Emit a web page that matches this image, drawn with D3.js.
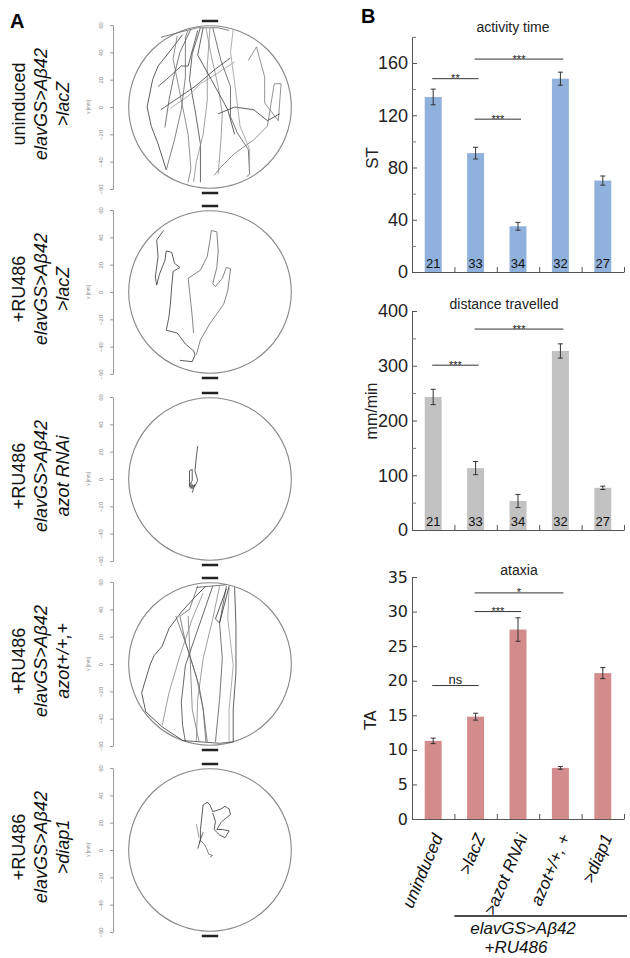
<!DOCTYPE html>
<html><head><meta charset="utf-8">
<script src="https://cdn.jsdelivr.net/npm/d3@7"></script>
<style>body{margin:0;background:#fff}svg{display:block}</style>
</head><body>
<svg id="fig" width="630" height="958"></svg>
<script>
// ---------------- DATA ----------------
const categories = ["uninduced", ">lacZ", ">azot RNAi", "azot+/+, +", ">diap1"];
const sampleSizes = [21, 33, 34, 32, 27];
const activityMean = [134, 91, 35, 148, 70];
const activityErr = [6, 4.5, 3, 5, 3.5];
const distanceMean = [243, 113, 53, 327, 77];
const distanceErr = [14, 12, 12, 13, 3];
const ataxiaMean = [11.3, 14.8, 27.4, 7.4, 21.1];
const ataxiaErr = [0.4, 0.5, 1.7, 0.2, 0.8];
const activitySig = [[0, 1, 148, "**"], [1, 2, 117, "***"], [1, 3, 163, "***"]];
const distanceSig = [[0, 1, 301, "***"], [1, 3, 367, "***"]];
const ataxiaSig = [[0, 1, 19.3, "ns"], [1, 2, 30.0, "***"], [1, 3, 32.7, "*"]];
const activityTicks = [0, 40, 80, 120, 160];
const activityMinor = [20, 60, 100, 140, 180];
const distanceTicks = [0, 100, 200, 300, 400];
const distanceMinor = [50, 150, 250, 350];
const ataxiaTicks = [0, 5, 10, 15, 20, 25, 30, 35];

const panelALine1 = ["uninduced", "+RU486", "+RU486", "+RU486", "+RU486"];
const panelALine2 = ["elavGS>Aβ42", "elavGS>Aβ42", "elavGS>Aβ42", "elavGS>Aβ42", "elavGS>Aβ42"];
const panelALine3 = [">lacZ", ">lacZ", "azot RNAi", "azot+/+,+", ">diap1"];
const arenaTicks = [-60, -40, -20, 0, 20, 40, 60];

// walking tracks (mm)
const tracksUninduced = [
 [[-20,53],[-30,40],[-38,30],[-42,20],[-46,0],[-43,-14],[-38,-27],[-32,-46]],
 [[-32,-46],[-26,-24],[-21,-2],[-18,22],[-18,51],[-16,56]],
 [[-7,58],[-13,39],[-15,20],[-11,-2],[-7,-27],[-7,-55]],
 [[-3,58],[1,37],[6,15],[9,-5],[8,-24],[6,-49]],
 [[2,58],[8,34],[15,15],[15,-7],[20,-19],[28,-31],[29,-49],[27,-51]],
 [[-29,-1],[-16,8],[-7,17],[6,25],[18,33]],
 [[-36,-2],[-11,15],[3,27],[15,36]],
 [[28,34],[34,44],[40,22],[40,3],[50,-10],[52,17],[47,17],[42,-14],[32,-24],[18,-34],[8,-44],[3,-50]],
 [[6,-5],[18,0],[32,-2],[42,-10],[51,-5]],
 [[-36,51],[-21,55],[-9,58],[6,58],[14,56]],
 [[-9,56],[-16,30],[-21,30],[-32,20],[-38,15]],
 [[0,58],[-2,30],[-2,5],[-5,-20],[-10,-40],[-12,-55]],
 [[-14,57],[-22,40],[-27,20],[-30,5],[-33,-15]],
 [[17,57],[15,40],[18,18],[22,-14],[29,-31],[29,-45]],
 [[-5,58],[-9,38],[1,20],[13,-2],[18,-20]],
 [[-24,52],[-27,35],[-22,10],[-16,-20],[-14,-45],[-16,-55]]
];
const tracksLacZ = [
 [[-34,45],[-39,38],[-38,26],[-40,11],[-39,5],[-37,13],[-33,23],[-32,30],[-28,29],[-26,21],[-22,18],[-27,15],[-28,4],[-29,-9],[-30,-18],[-32,-28],[-24,-30],[-18,-38],[-12,-43],[-11,-46],[-13,-51],[-22,-50]],
 [[-12,-30],[-13,-18],[-15,1],[-16,10],[-7,16],[-2,26],[0,38],[1,45],[5,44],[6,30],[5,18],[2,6],[4,4],[9,10],[12,18],[15,17],[13,1],[10,-9],[0,-23],[-7,-35],[-10,-46]]
];
const tracksAzotRNAi = [
 [[-9,24],[-10,16],[-11,6],[-9,-1],[-11,-5],[-15,-5],[-15,6],[-13,7],[-13,-1],[-15,-5],[-13,-7],[-11,-4],[-13,-10]],
 [[-14,-3],[-12,-6],[-15,-6],[-13,-4],[-14,-7],[-12,-5]]
];
const tracksAzotPlus = [
 [[-3,57],[-11,49],[-21,38],[-30,26],[-35,13],[-41,6],[-44,-1],[-50,-21],[-47,-35],[-35,-46],[-20,-56]],
 [[-9,57],[-15,40],[-22,35],[-18,16],[-10,-9],[-5,-33],[-3,-57]],
 [[2,57],[-8,28],[-18,-1],[-21,-28],[-20,-45],[-18,-57]],
 [[7,57],[2,33],[-5,4],[-9,-26],[-10,-57]],
 [[12,57],[7,30],[9,4],[7,-26],[4,-57]],
 [[14,56],[13,33],[17,-1],[14,-33],[14,-57]],
 [[18,56],[19,28],[19,-6],[17,-33],[17,-57]],
 [[-16,35],[-15,16],[-14,-9],[-13,-33],[-8,-57]],
 [[14,57],[7,30],[4,33],[12,55]],
 [[-25,35],[-17,13],[-8,-16],[-5,-33],[-2,-57]],
 [[-20,-56],[7,-58],[17,-57]],
 [[-35,-45],[-30,-21],[-22,6],[-13,33],[-5,52]],
 [[-10,56],[12,58]]
];
const tracksDiap1 = [
 [[-9,1],[-7,7],[-7,15],[-6,24],[-5,33],[-2,35],[0,33],[2,28],[5,29],[8,30],[11,32],[14,30],[15,26],[10,22],[8,20],[5,15],[9,15],[14,14],[11,9],[7,11],[3,15],[4,21],[2,27]],
 [[-7,7],[-4,4],[-2,0],[-1,-3],[2,-4],[0,-5]],
 [[-8,5],[-5,13]],
 [[-10,19],[-9,14],[-8,9]]
];

// ---------------- DRAW ----------------
const svg = d3.select("#fig");
const FONT = "Arial, 'Liberation Sans', sans-serif";

// ---- Panel A ----
svg.append("text").attr("x", 10).attr("y", 28).attr("font-family", FONT)
  .attr("font-weight", "bold").attr("font-size", 20).text("A");

const arenaTracks = [tracksUninduced, tracksLacZ, tracksAzotRNAi, tracksAzotPlus, tracksDiap1];
const arenaCy = [107, 292, 479, 664, 850];
const acx = 210, AR = 82;
const shades = ["#333", "#666", "#444", "#888", "#555", "#999", "#3a3a3a", "#777"];

arenaTracks.forEach((tracks, i) => {
  const cy = arenaCy[i];
  const xs = d3.scaleLinear().domain([-60, 60]).range([acx - AR, acx + AR]);
  const ys = d3.scaleLinear().domain([-60, 60]).range([cy + AR, cy - AR]);
  const g = svg.append("g");

  const ax = g.append("g").attr("transform", "translate(113,0)")
    .call(d3.axisLeft(ys).tickValues(arenaTicks).tickSize(3).tickSizeOuter(0));
  ax.select(".domain").attr("stroke", "#999");
  ax.selectAll(".tick line").attr("stroke", "#999");
  ax.selectAll(".tick text").attr("x", 0).attr("dy", 0).attr("text-anchor", "middle")
    .attr("transform", "translate(-10,0) rotate(-90)")
    .attr("font-size", 6).attr("fill", "#888").attr("font-family", FONT);
  g.append("text").attr("transform", `translate(90,${cy}) rotate(-90)`)
    .attr("text-anchor", "middle").attr("font-size", 4.5).attr("fill", "#888")
    .attr("font-family", FONT).text("y [mm]");

  g.append("circle").attr("cx", xs(0)).attr("cy", ys(0)).attr("r", xs(59.5) - xs(0))
    .attr("fill", "none").attr("stroke", "#888").attr("stroke-width", 1.1);

  const line = d3.line().x(d => xs(d[0])).y(d => ys(d[1]));
  g.selectAll("path.track").data(tracks).join("path").attr("class", "track")
    .attr("d", line).attr("fill", "none")
    .attr("stroke", (d, j) => shades[j % shades.length]).attr("stroke-width", 0.8);

  [ys(60) - 4, ys(-60) + 4].forEach(yy => {
    g.append("line").attr("x1", xs(-6)).attr("x2", xs(6)).attr("y1", yy).attr("y2", yy)
      .attr("stroke", "#222").attr("stroke-width", 2.5);
  });

  const lab = [[panelALine1[i], 25, "normal"],
               [panelALine2[i], 47, "italic"],
               [panelALine3[i], 69, "italic"]];
  lab.forEach(([t, x, st]) => {
    g.append("text").attr("transform", `translate(${x},${cy - 3}) rotate(-90)`)
      .attr("text-anchor", "middle").attr("font-family", FONT).attr("font-size", 18)
      .attr("font-style", st).attr("fill", "#111").text(t);
  });
});

// ---- Panel B ----
svg.append("text").attr("x", 361).attr("y", 23).attr("font-family", FONT)
  .attr("font-weight", "bold").attr("font-size", 20).text("B");

const x = d3.scaleBand().domain(categories).range([412, 624]).paddingInner(0.6).paddingOuter(0.3);
const xIdx = d3.scaleLinear().domain([0, 5]).range([412, 624]);
const cxOf = i => x(categories[i]) + x.bandwidth() / 2;

function barChart(o) {
  const g = svg.append("g");
  const y = d3.scaleLinear().domain(o.domain).range([o.bottom, o.top]);

  const major = g.append("g").attr("transform", "translate(412,0)")
    .call(d3.axisLeft(y).tickValues(o.ticks).tickSize(-5).tickPadding(4).tickSizeOuter(0));
  major.select(".domain").attr("stroke", "#555");
  major.selectAll(".tick line").attr("stroke", "#555");
  major.selectAll(".tick text").attr("font-size", o.tickFontSize).attr("font-family", o.tickFont)
    .attr("fill", "#222");
  if (o.minor) {
    const mi = g.append("g").attr("transform", "translate(412,0)")
      .call(d3.axisLeft(y).tickValues(o.minor).tickSize(-4).tickFormat(""));
    mi.select(".domain").remove();
    mi.selectAll(".tick line").attr("stroke", "#777");
  }
  const xa = g.append("g").attr("transform", `translate(0,${o.bottom})`)
    .call(d3.axisBottom(xIdx).tickValues([1, 2, 3, 4, 5]).tickFormat("").tickSize(-5).tickSizeOuter(0));
  xa.select(".domain").attr("stroke", "#555");
  xa.selectAll(".tick line").attr("stroke", "#555");

  g.selectAll("rect.bar").data(o.values).join("rect").attr("class", "bar")
    .attr("x", (d, i) => x(categories[i])).attr("width", x.bandwidth())
    .attr("y", d => y(d)).attr("height", d => o.bottom - y(d)).attr("fill", o.color);

  o.values.forEach((v, i) => {
    const e = o.errors[i], cxx = cxOf(i);
    g.append("line").attr("x1", cxx).attr("x2", cxx).attr("y1", y(v - e)).attr("y2", y(v + e))
      .attr("stroke", "#333").attr("stroke-width", 1);
    [v - e, v + e].forEach(vv => g.append("line").attr("x1", cxx - 2.5).attr("x2", cxx + 2.5)
      .attr("y1", y(vv)).attr("y2", y(vv)).attr("stroke", "#333").attr("stroke-width", 1));
  });

  if (o.showN) {
    g.selectAll("text.n").data(sampleSizes).join("text").attr("class", "n")
      .attr("x", (d, i) => cxOf(i)).attr("y", o.bottom - 4).attr("text-anchor", "middle")
      .attr("font-family", FONT).attr("font-size", 13).attr("fill", "#111").text(d => d);
  }

  o.sig.forEach(([a, b, v, lbl]) => {
    const x1 = cxOf(a) - 1, x2 = cxOf(b) + 3, yy = y(v);
    g.append("line").attr("x1", x1).attr("x2", x2).attr("y1", yy).attr("y2", yy)
      .attr("stroke", "#333").attr("stroke-width", 1);
    g.append("text").attr("x", (x1 + x2) / 2).attr("y", lbl === "ns" ? yy - 2 : yy + 3.5)
      .attr("text-anchor", "middle").attr("font-family", FONT)
      .attr("font-size", lbl === "ns" ? 13 : 11).attr("fill", "#222").text(lbl);
  });

  g.append("text").attr("x", o.titleX).attr("y", o.titleY).attr("text-anchor", "middle")
    .attr("font-family", FONT).attr("font-size", 14).attr("fill", "#222").text(o.title);
  g.append("text").attr("transform", `translate(${o.ylabX},${o.ylabY}) rotate(-90)`)
    .attr("text-anchor", "middle").attr("font-family", o.ylabFont || FONT)
    .attr("font-size", o.ylabSize).attr("fill", "#222").text(o.ylabel);
  return y;
}

barChart({ values: activityMean, errors: activityErr, domain: [0, 180], bottom: 272, top: 272 - 180 * 209 / 160,
  ticks: activityTicks, minor: activityMinor, color: "#8fb1dc", showN: true, sig: activitySig,
  title: "activity time", titleX: 513, titleY: 32, ylabel: "ST", ylabX: 378, ylabY: 158, ylabSize: 17,
  tickFont: FONT, tickFontSize: 18 });

barChart({ values: distanceMean, errors: distanceErr, domain: [0, 400], bottom: 530, top: 311,
  ticks: distanceTicks, minor: distanceMinor, color: "#c2c2c2", showN: true, sig: distanceSig,
  title: "distance travelled", titleX: 504, titleY: 309, ylabel: "mm/min", ylabX: 377, ylabY: 411, ylabSize: 16,
  tickFont: FONT, tickFontSize: 18 });

barChart({ values: ataxiaMean, errors: ataxiaErr, domain: [0, 35], bottom: 819, top: 577,
  ticks: ataxiaTicks, minor: null, color: "#d48b8b", showN: false, sig: ataxiaSig,
  title: "ataxia", titleX: 519, titleY: 575, ylabel: "TA", ylabX: 376, ylabY: 720, ylabSize: 16,
  ylabFont: "'DejaVu Sans', sans-serif",
  tickFont: "'DejaVu Sans', sans-serif", tickFontSize: 16 });

// category labels
svg.selectAll("text.cat").data(categories).join("text").attr("class", "cat")
  .attr("transform", (d, i) => `translate(${cxOf(i) + 10},837) rotate(-67)`)
  .attr("text-anchor", "end").attr("font-family", FONT).attr("font-style", "italic")
  .attr("font-size", 17).attr("fill", "#111").text(d => d);

svg.append("line").attr("x1", xIdx(1)).attr("x2", 627).attr("y1", 916).attr("y2", 916)
  .attr("stroke", "#111").attr("stroke-width", 1.5);
svg.append("text").attr("x", 523).attr("y", 934).attr("text-anchor", "middle")
  .attr("font-family", FONT).attr("font-style", "italic").attr("font-size", 17).attr("fill", "#111")
  .text("elavGS>Aβ42");
svg.append("text").attr("x", 516).attr("y", 953).attr("text-anchor", "middle")
  .attr("font-family", FONT).attr("font-style", "italic").attr("font-size", 17).attr("fill", "#111")
  .text("+RU486");
</script>
</body></html>
